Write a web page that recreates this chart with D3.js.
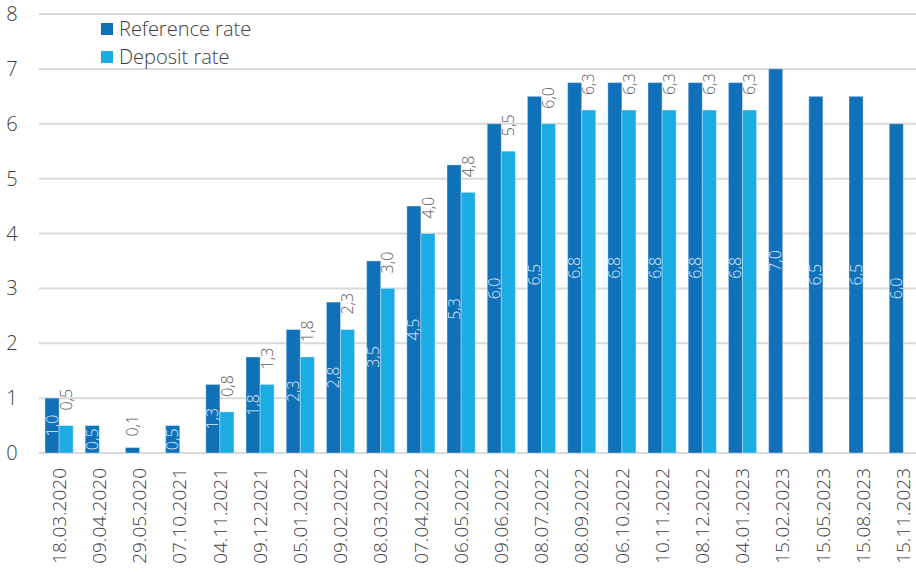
<!DOCTYPE html>
<html>
<head>
    <title>Reference and deposit rate</title>
    <script src="https://d3js.org/d3.v7.min.js"></script>
    <style>
        body { margin: 0; background: white; }
        svg { display: block; }
        .tick-label, .legend-text, .x-label {
            font-family: 'Open Sans', Arial, sans-serif;
            font-weight: 300;
            fill: #404040;
        }
        .grid { stroke: #d9d9d9; stroke-width: 2px; }
        .bar { stroke: rgba(255,255,255,0.35); stroke-width: 1px; }
        .val { font-family: 'Open Sans', Arial, sans-serif; font-weight: 300; font-size: 16px; }
    </style>
</head>
<body>
    <svg width="916" height="574"></svg>
    <script>
        // Data
        const dates = ["18.03.2020", "09.04.2020", "29.05.2020", "07.10.2021", "04.11.2021", "09.12.2021",
            "05.01.2022", "09.02.2022", "08.03.2022", "07.04.2022", "06.05.2022", "09.06.2022",
            "08.07.2022", "08.09.2022", "06.10.2022", "10.11.2022", "08.12.2022", "04.01.2023",
            "15.02.2023", "15.05.2023", "15.08.2023", "15.11.2023"];
        const referenceRate = [1.0, 0.5, 0.1, 0.5, 1.25, 1.75, 2.25, 2.75, 3.5, 4.5, 5.25, 6.0,
            6.5, 6.75, 6.75, 6.75, 6.75, 6.75, 7.0, 6.5, 6.5, 6.0];
        const depositRate = [0.5, null, null, null, 0.75, 1.25, 1.75, 2.25, 3.0, 4.0, 4.75, 5.5,
            6.0, 6.25, 6.25, 6.25, 6.25, 6.25, null, null, null, null];
        const yTicks = [0, 1, 2, 3, 4, 5, 6, 7, 8];
        const seriesNames = ["Reference rate", "Deposit rate"];

        const colors = ["#1071b9", "#1aace3"];

        const svg = d3.select("svg"),
              width = +svg.attr("width");

        const x0 = d3.scaleBand()
            .domain(dates)
            .range([39, 39 + dates.length * 40.2])
            .paddingInner(0.3)
            .paddingOuter(0.15);

        const x1 = d3.scaleBand()
            .domain([0, 1])
            .range([0, x0.bandwidth()]);

        const y = d3.scaleLinear()
            .domain([0, 8])
            .range([453, 14]);

        // label format 1,25 -> 1,3
        const fmt = v => (Math.round(v * 10 + 1e-9) / 10).toFixed(1).replace(".", ",");
        // reference labels sit inside the bar when it is tall enough
        const inside = d => d.k === 0 && (y(0) - y(d.v)) > 20;

        // Gridlines
        svg.append("g")
            .selectAll("line")
            .data(yTicks)
            .enter().append("line")
            .attr("class", "grid")
            .attr("x1", 39)
            .attr("x2", width)
            .attr("y1", d => y(d))
            .attr("y2", d => y(d));

        // Y labels
        svg.append("g")
            .selectAll("text")
            .data(yTicks)
            .enter().append("text")
            .attr("class", "tick-label")
            .attr("x", 12)
            .attr("y", d => y(d))
            .attr("dy", "0.35em")
            .attr("text-anchor", "middle")
            .style("font-size", "20px")
            .text(d => d);

        // Bars
        const rows = dates.map((d, i) => ({ date: d, values: [referenceRate[i], depositRate[i]] }));

        const group = svg.append("g")
            .selectAll("g")
            .data(rows)
            .enter().append("g")
            .attr("transform", d => `translate(${x0(d.date)},0)`);

        const cells = group.selectAll("g")
            .data(d => d.values.map((v, k) => ({ k, v })).filter(e => e.v !== null))
            .enter().append("g");

        cells.append("rect")
            .attr("class", "bar")
            .attr("x", d => x1(d.k))
            .attr("width", x1.bandwidth())
            .attr("y", d => y(d.v))
            .attr("height", d => y(0) - y(d.v))
            .attr("fill", d => colors[d.k]);

        // Value labels: reference inside (centred), deposit above
        cells.append("text")
            .attr("class", "val")
            .attr("transform", d => {
                const cx = x1(d.k) + x1.bandwidth() / 2;
                const cy = inside(d) ? (y(d.v) + y(0)) / 2 : y(d.v) - (d.k === 0 ? 11 : 15);
                return `translate(${cx},${cy}) rotate(-90)`;
            })
            .attr("dy", "0.35em")
            .attr("text-anchor", d => inside(d) ? "middle" : "start")
            .attr("fill", d => inside(d) ? "#dcebf7" : "#595959")
            .text(d => fmt(d.v));

        // X labels
        svg.append("g")
            .selectAll("text")
            .data(dates)
            .enter().append("text")
            .attr("class", "x-label")
            .attr("transform", d => `translate(${x0(d) + x0.bandwidth() / 2},468) rotate(-90)`)
            .attr("dy", "0.35em")
            .attr("text-anchor", "end")
            .style("font-size", "19px")
            .text(d => d);

        // Legend
        const legend = svg.append("g")
            .selectAll("g")
            .data(seriesNames)
            .enter().append("g")
            .attr("transform", (d, i) => `translate(101,${29 + i * 28})`);

        legend.append("rect")
            .attr("x", 0)
            .attr("y", -6)
            .attr("width", 12)
            .attr("height", 12)
            .attr("fill", (d, i) => colors[i]);

        legend.append("text")
            .attr("class", "legend-text")
            .attr("x", 18)
            .attr("dy", "0.35em")
            .style("font-size", "20px")
            .text(d => d);
    </script>
</body>
</html>
